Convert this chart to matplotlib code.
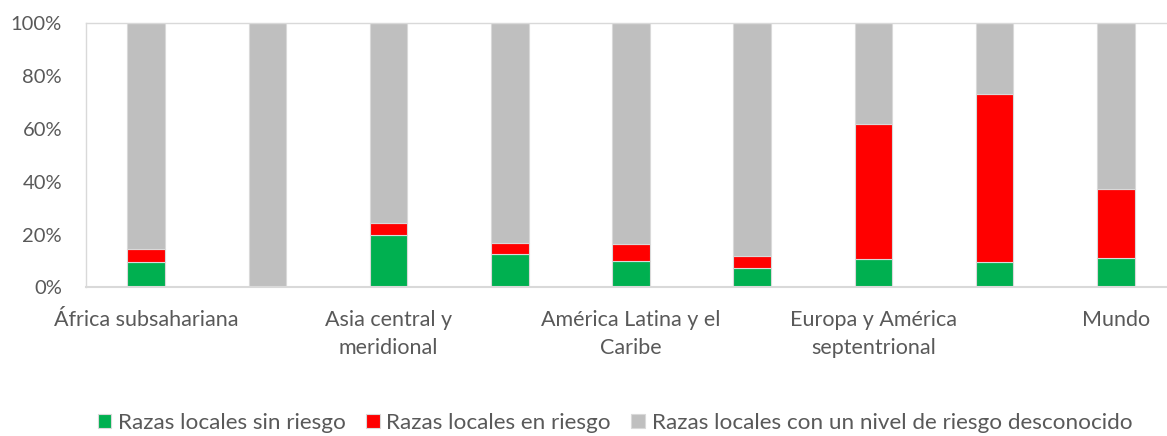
import numpy as np
import matplotlib.pyplot as plt
from matplotlib.ticker import PercentFormatter

# share of local breeds by risk status, per region (%)
regions = [
    "África subsahariana",
    "África septentrional y Asia occidental",
    "Asia central y meridional",
    "Asia oriental y sudoriental",
    "América Latina y el Caribe",
    "Oceanía",
    "Europa y América septentrional",
    "Australia y Nueva Zelandia",
    "Mundo",
]
# only every other label fits under the axis
tick_labels = [
    "África subsahariana",
    "",
    "Asia central y\nmeridional",
    "",
    "América Latina y el\nCaribe",
    "",
    "Europa y América\nseptentrional",
    "",
    "Mundo",
]
not_at_risk = [9.5, 0.0, 19.8, 12.6, 9.9, 7.3, 10.7, 9.5, 11.0]
at_risk = [4.9, 0.0, 4.7, 4.2, 6.7, 4.7, 51.3, 63.9, 26.4]
unknown = [100 - a - b for a, b in zip(not_at_risk, at_risk)]

series_names = [
    "Razas locales sin riesgo",
    "Razas locales en riesgo",
    "Razas locales con un nivel de riesgo desconocido",
]
colors = ["#00b050", "#ff0000", "#bfbfbf"]

plt.rcParams["font.family"] = ["Lato", "DejaVu Sans"]
text_color = "#595959"

fig = plt.figure(figsize=(11.67, 4.36), dpi=100)
ax = fig.add_axes([0.0734, 0.3406, 0.9347, 0.606])

x = np.arange(len(regions))
width = 0.31
bottom = np.zeros(len(regions))
for values, name, color in zip([not_at_risk, at_risk, unknown], series_names, colors):
    ax.bar(x, values, width, bottom=bottom, color=color, label=name,
           edgecolor="#d9d9d9", linewidth=0.8)
    bottom += np.array(values)

ax.set_xlim(-0.5, len(regions) - 0.5)
ax.set_ylim(0, 100)
ax.set_yticks(np.arange(0, 101, 20))
ax.yaxis.set_major_formatter(PercentFormatter(decimals=0))
ax.set_xticks(x)
ax.set_xticklabels(tick_labels, linespacing=1.5)
ax.tick_params(axis="both", length=0, labelcolor=text_color)
ax.tick_params(axis="x", labelsize=15.5, pad=16)
ax.tick_params(axis="y", labelsize=14.5, pad=17)

for side in ["left", "top", "right"]:
    ax.spines[side].set_color("#d9d9d9")
    ax.spines[side].set_linewidth(1)
ax.spines["bottom"].set_color("#d9d9d9")
ax.spines["bottom"].set_linewidth(1.5)

fig.legend(loc="lower center", bbox_to_anchor=(0.527, -0.04), ncol=3,
           frameon=False, fontsize=16.2, labelcolor=text_color,
           handlelength=0.6, handleheight=0.6, handletextpad=0.3,
           columnspacing=0.9)

fig.savefig("out.png", dpi=100)
